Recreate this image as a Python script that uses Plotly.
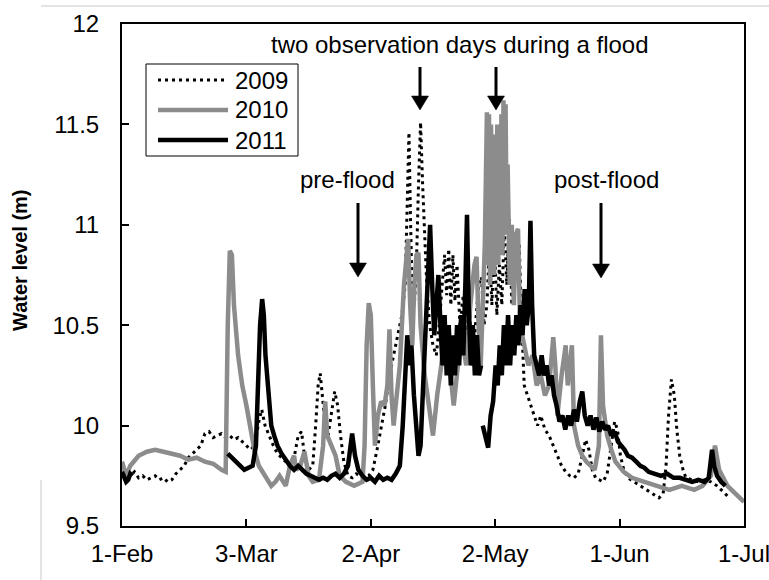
import plotly.graph_objects as go

# ---------------- data (day offset from 1-Feb, water level in m) ----------------
days_2009 = [0, 1, 2, 3, 4, 5, 6, 7, 8, 9, 10, 11, 12, 13, 14, 15, 16, 17, 18, 19,
             20, 21, 22, 23, 24, 25, 26, 27, 28, 29, 30, 31, 32, 33, 33.7, 34.5, 35.5, 36.5, 37.5, 38.5,
             39.5, 40.5, 41.5, 42.5, 43.3, 44, 45, 46, 46.7, 47.3, 47.8, 48.3, 49, 49.7, 50.5, 51.3,
             52, 52.7, 53.5, 54.5, 55.5, 56.5, 57.5, 58.5, 59.5, 60.5, 61.5, 62.5, 63.5, 64.5, 65.5,
             66.5, 67.5, 68.3, 68.8, 69.2, 69.6, 70.0, 70.5, 71.0, 71.5, 72.0, 72.5, 73.0, 73.5, 74.2,
             75.0, 75.8, 76.5, 77.2, 77.8, 78.3, 78.8, 79.3, 79.8, 80.3, 80.8, 81.5, 82.3, 83.0, 83.8,
             84.5, 85.3, 86.0, 86.7, 87.3, 88.0, 88.6, 89.2, 89.8, 90.4, 91.0, 91.6, 92.2, 92.8, 93.4,
             94.0, 94.6, 95.2, 95.8, 96.4, 97.0, 97.8, 98.6, 99.4, 100.2, 101.0, 102.0, 103.0, 104.0,
             105.0, 106.0, 107.0, 108.0, 109.0, 110.0, 111.0, 111.8, 112.6, 113.4, 114.2, 115.0, 116.0,
             117.0, 118.0, 118.8, 119.5, 120.2, 121.0, 122.0, 123.5, 125.0, 126.5, 128.0, 129.5, 130.5,
             131.2, 131.8, 132.5, 133.2, 133.8, 134.5, 135.3, 136.0, 137.5, 139.0, 140.5, 142.0, 143.5,
             145.0, 146.0]
level_2009 = [9.76, 9.74, 9.75, 9.77, 9.74, 9.75, 9.73, 9.74, 9.75, 9.73, 9.74, 9.72, 9.73, 9.76, 9.78,
              9.80, 9.84, 9.86, 9.88, 9.90, 9.96, 9.97, 9.94, 9.95, 9.96, 9.94, 9.95, 9.93, 9.94, 9.92,
              9.90, 9.88, 9.90, 10.02, 10.08, 10.00, 9.95, 9.90, 9.86, 9.84, 9.82, 9.80, 9.84, 9.95,
              9.97, 9.85, 9.78, 9.80, 10.00, 10.20, 10.26, 10.15, 10.00, 9.95, 10.05, 10.17, 10.10,
              9.95, 9.82, 9.75, 9.74, 9.76, 9.75, 9.74, 9.75, 9.78, 9.88, 10.00, 10.10, 10.25, 10.35,
              10.45, 10.55, 10.70, 11.10, 11.46, 11.00, 10.65, 10.60, 10.80, 11.20, 11.51, 11.20,
              10.90, 10.70, 10.50, 10.40, 10.35, 10.50, 10.70, 10.85, 10.65, 10.88, 10.60, 10.85,
              10.62, 10.80, 10.50, 10.65, 10.40, 10.60, 10.30, 10.50, 10.70, 10.74, 10.50, 10.60,
              10.90, 10.60, 10.94, 10.55, 10.80, 10.60, 11.00, 10.70, 11.03, 10.60, 10.90, 10.75,
              10.90, 10.50, 10.20, 10.15, 10.10, 10.05, 10.00, 10.05, 9.98, 9.95, 9.90, 9.85, 9.80,
              9.77, 9.75, 9.74, 9.76, 9.85, 9.93, 9.88, 9.78, 9.74, 9.73, 9.72, 9.76, 9.90, 10.02,
              9.98, 9.85, 9.78, 9.74, 9.72, 9.70, 9.68, 9.66, 9.64, 9.66, 9.80, 10.05, 10.23, 10.15,
              9.98, 9.85, 9.78, 9.74, 9.73, 9.72, 9.73, 9.72, 9.70, 9.67, 9.65]

days_2010 = [0, 1, 2, 4, 6, 8, 10, 12, 14, 16, 18, 20, 22, 24, 25, 25.5, 26, 26.5, 27, 28, 29, 30,
             31, 31.7, 32, 33, 35, 36, 37, 38, 39.5, 40.5, 41.5, 42, 43, 44, 45, 46, 47.5, 48.5, 49,
             49.5, 50.5, 51.5, 52.5, 54, 56, 58, 58.5, 59, 59.5, 60, 60.5, 61, 61.7, 62.5, 63.3, 64,
             64.5, 65, 65.5, 66, 67, 68, 69, 69.5, 70, 70.5, 71, 71.5, 72, 73, 74, 75, 76, 77, 78,
             79, 80, 81, 82, 83, 84, 85, 85.5, 86, 86.5, 87, 87.5, 88.0, 88.25, 88.5, 88.75, 89.0,
             89.25, 89.5, 89.75, 90.0, 90.25, 90.5, 90.75, 91.0, 91.25, 91.5, 91.75, 92.0, 92.25,
             92.5, 92.75, 93.0, 93.5, 94, 94.5, 95, 95.5, 96, 97, 98, 99, 100, 101, 102, 103, 104,
             104.5, 105, 106, 107, 107.5, 108.5, 109, 110, 111, 112, 113, 114, 115, 115.5, 116, 117,
             118, 119, 121, 123, 126, 129, 132, 135, 138, 140, 142, 143, 144, 146, 148, 150]
level_2010 = [9.82, 9.75, 9.80, 9.85, 9.87, 9.88, 9.87, 9.86, 9.85, 9.83, 9.84, 9.82, 9.81, 9.78,
              9.77, 10.50, 10.87, 10.85, 10.60, 10.35, 10.20, 10.10, 9.98, 9.90, 9.87, 9.80, 9.73,
              9.70, 9.72, 9.75, 9.70, 9.80, 9.85, 9.78, 9.80, 9.87, 9.75, 9.72, 9.73, 9.90, 10.12,
              9.95, 9.90, 9.85, 9.75, 9.72, 9.70, 9.72, 9.90, 10.40, 10.61, 10.55, 10.20, 9.90,
              10.05, 10.12, 10.10, 10.20, 10.48, 10.15, 10.00, 10.10, 10.30, 10.70, 10.93, 10.60,
              10.40, 10.70, 10.85, 10.86, 10.50, 10.25, 10.10, 9.95, 10.15, 10.30, 10.50, 10.30,
              10.10, 10.30, 10.45, 10.30, 10.60, 10.80, 10.84, 10.50, 10.30, 10.60, 10.90, 11.56,
              10.80, 11.55, 10.70, 11.50, 10.90, 11.44, 10.75, 11.45, 10.85, 11.50, 10.80, 11.48,
              10.90, 11.55, 10.85, 11.62, 10.95, 11.60, 11.00, 11.30, 10.70, 11.00, 10.60, 10.95,
              10.98, 10.50, 10.40, 10.30, 10.35, 10.20, 10.25, 10.15, 10.20, 10.44, 10.30, 10.05,
              10.25, 10.40, 10.20, 10.40, 10.00, 9.90, 9.85, 9.82, 9.80, 9.78, 9.90, 10.45, 10.10,
              9.95, 9.88, 9.82, 9.77, 9.74, 9.72, 9.70, 9.68, 9.70, 9.68, 9.70, 9.75, 9.90, 9.78,
              9.70, 9.66, 9.62]

days_2011 = [0, 0.5, 1.0, 1.5, 2.0, 2.5, 3.0, 25.5, 26.5, 27.5, 28.5, 29.5, 30.5, 31.5, 32.3, 32.8,
             33.3, 33.8, 34.2, 34.6, 35.0, 35.5, 36.0, 36.7, 37.5, 38.5, 39.5, 40.5, 41.5, 42.5,
             43.5, 44.5, 45.5, 46.5, 47.5, 48.5, 49.5, 50.5, 51.5, 52.5, 53.5, 54.5, 55.5, 56.2,
             57, 58, 59, 60, 61, 62, 63, 64, 65, 66, 67, 67.7, 68.3, 68.8, 69.3, 69.8, 70.4, 71.0,
             71.5, 72.0, 72.6, 73.2, 73.8, 74.3, 74.8, 75.3, 75.8, 76.3, 76.8, 77.3, 77.8, 78.3,
             78.8, 79.3, 79.8, 80.3, 80.8, 81.3, 81.8, 82.3, 82.8, 83.2, 83.6, 84.1, 84.6, 85.1,
             85.6, 86.1, 86.6, 86.8, 87.0, 87.6, 88.3, 88.9, 89.5, 90.1, 90.6, 91.1, 91.6, 92.1,
             92.6, 93.1, 93.6, 94.1, 94.6, 95.1, 95.6, 96.1, 96.6, 97.1, 97.6, 98.1, 98.5, 98.9,
             99.4, 100.0, 100.6, 101.2, 101.8, 102.4, 103.0, 103.6, 104.2, 104.8, 105.5, 106.2,
             106.9, 107.6, 108.3, 109.0, 109.7, 110.4, 111.0, 111.6, 112.3, 113.0, 113.7, 114.4,
             115.1, 115.8, 116.5, 117.2, 118.0, 118.8, 119.6, 120.4, 121.2, 122.0, 123.0, 124.0,
             125.0, 126.0, 127.0, 128.5, 130.0, 131.5, 133.0, 134.5, 136.0, 137.5, 139.0, 140.5,
             141.5, 142.3, 142.8, 143.5, 144.5, 145.5]
level_2011 = [9.77, 9.74, 9.72, 9.73, 9.76, 9.75, None, 9.86, 9.84, 9.82, 9.80, 9.78, 9.79, 9.80,
              9.90, 10.20, 10.50, 10.63, 10.55, 10.35, 10.25, 10.10, 10.00, 9.95, 9.90, 9.86, 9.83,
              9.80, 9.78, 9.80, 9.78, 9.76, 9.75, 9.74, 9.73, 9.74, 9.73, 9.75, 9.76, 9.74, 9.76,
              9.80, 9.96, 9.85, 9.78, 9.75, 9.73, 9.74, 9.72, 9.75, 9.73, 9.74, 9.73, 9.76, 9.80,
              10.00, 10.25, 10.45, 10.30, 10.40, 10.15, 9.95, 9.85, 9.90, 10.20, 10.50, 10.80,
              11.00, 10.70, 10.45, 10.60, 10.75, 10.50, 10.30, 10.55, 10.25, 10.50, 10.20, 10.45,
              10.25, 10.50, 10.30, 10.55, 10.35, 10.70, 11.05, 10.60, 10.30, 10.50, 10.25, 10.45,
              10.25, 10.30, None, 10.00, 9.95, 9.89, 10.05, 10.12, 10.30, 10.20, 10.40, 10.25, 10.50,
              10.30, 10.55, 10.30, 10.50, 10.35, 10.55, 10.40, 10.60, 10.45, 10.68, 10.50, 10.60,
              11.02, 10.60, 10.35, 10.30, 10.25, 10.35, 10.25, 10.30, 10.20, 10.25, 10.15, 10.10,
              10.02, 10.05, 9.98, 10.05, 10.00, 10.08, 10.02, 10.12, 10.17, 10.05, 10.00, 10.05,
              9.98, 10.04, 9.97, 10.02, 9.98, 10.00, 9.95, 9.97, 9.92, 9.90, 9.88, 9.85, 9.84, 9.82,
              9.80, 9.79, 9.77, 9.76, 9.75, 9.76, 9.74, 9.74, 9.73, 9.72, 9.73, 9.72, 9.74, 9.88,
              9.80, 9.75, 9.72, 9.70]

tick_days = [0, 30, 60, 90, 120, 150]
tick_labels = ["1-Feb", "3-Mar", "2-Apr", "2-May", "1-Jun", "1-Jul"]
y_ticks = [9.5, 10, 10.5, 11, 11.5, 12]
y_tick_labels = ["9.5", "10", "10.5", "11", "11.5", "12"]

series_names = ["2009", "2010", "2011"]
series_colors = ["#000000", "#8c8c8c", "#000000"]
series_widths = [3, 4.5, 4.5]
series_dash = ["3px,4px", "solid", "solid"]

# ---------------- figure ----------------
W, H = 769, 580
L, R, T, B = 122, 25, 24, 54
PW, PH = W - L - R, H - T - B


def px(x):
    return (x - L) / PW


def py(y):
    return (H - B - y) / PH


FONT = "Liberation Sans, Arial, sans-serif"

fig = go.Figure()
for d, v, n, c, w, ds in zip([days_2009, days_2010, days_2011],
                             [level_2009, level_2010, level_2011],
                             series_names, series_colors, series_widths, series_dash):
    fig.add_trace(go.Scatter(x=d, y=v, mode="lines", name=n,
                             line=dict(color=c, width=w, dash=ds),
                             connectgaps=False, showlegend=False))

shapes = []
annotations = []

# manual legend (box + line samples + labels)
shapes.append(dict(type="rect", xref="paper", yref="paper",
                   x0=px(146), x1=px(298), y0=py(156), y1=py(64),
                   line=dict(color="black", width=1), fillcolor="white", layer="above"))
for i, (n, c, w, ds) in enumerate(zip(series_names, series_colors, series_widths, series_dash)):
    yy = 80 + 30 * i
    shapes.append(dict(type="line", xref="paper", yref="paper",
                       x0=px(158), x1=px(228), y0=py(yy), y1=py(yy),
                       line=dict(color=c, width=w, dash=ds), layer="above"))
    annotations.append(dict(text=n, xref="paper", yref="paper", x=px(233), y=py(yy),
                            xanchor="left", yanchor="middle", showarrow=False,
                            font=dict(family=FONT, size=24, color="black")))

# arrows (shaft + filled head)
arrows = [(420, 67, 110), (496, 67, 110), (358, 203, 277), (601, 203, 278)]
for ax_, ytop, ytip in arrows:
    ybase = ytip - 14
    shapes.append(dict(type="line", xref="paper", yref="paper",
                       x0=px(ax_), x1=px(ax_), y0=py(ytop), y1=py(ybase + 1),
                       line=dict(color="black", width=3), layer="above"))
    path = "M {} {} L {} {} L {} {} Z".format(px(ax_ - 8.5), py(ybase), px(ax_ + 8.5), py(ybase),
                                             px(ax_), py(ytip))
    shapes.append(dict(type="path", xref="paper", yref="paper", path=path,
                       fillcolor="black", line=dict(color="black", width=0.5), layer="above"))

# text labels
for txt, xc, yc in [("two observation days during a flood", 460, 45),
                    ("pre-flood", 347, 180), ("post-flood", 606, 180)]:
    annotations.append(dict(text=txt, xref="paper", yref="paper", x=px(xc), y=py(yc),
                            xanchor="center", yanchor="middle", showarrow=False,
                            font=dict(family=FONT, size=24, color="black")))

# y axis title
annotations.append(dict(text="<b>Water level (m)</b>", xref="paper", yref="paper",
                        x=px(20), y=py(260), textangle=-90, xanchor="center", yanchor="middle",
                        showarrow=False, font=dict(family=FONT, size=20, color="black")))

# light frame lines of the original picture
shapes.append(dict(type="line", xref="paper", yref="paper", x0=px(41), x1=px(769),
                   y0=py(6), y1=py(6), line=dict(color="#c8c8c8", width=1)))
shapes.append(dict(type="line", xref="paper", yref="paper", x0=px(41), x1=px(41),
                   y0=py(480), y1=py(580), line=dict(color="#c8c8c8", width=1)))

fig.update_layout(
    width=W, height=H, margin=dict(l=L, r=R, t=T, b=B, pad=0, autoexpand=False),
    paper_bgcolor="white", plot_bgcolor="white",
    font=dict(family=FONT, size=24, color="black"),
    shapes=shapes, annotations=annotations, showlegend=False,
)
fig.update_xaxes(range=[0, 150], tickmode="array", tickvals=tick_days, ticktext=tick_labels,
                 showline=True, linecolor="black", linewidth=2, mirror=True, automargin=False,
                 ticks="inside", ticklen=7, tickwidth=1.5, tickcolor="black",
                 showgrid=False, zeroline=False, ticklabelstandoff=5,
                 ticklabeloverflow="allow",
                 tickfont=dict(family=FONT, size=24, color="black"))
fig.update_yaxes(range=[9.5, 12], tickmode="array", tickvals=y_ticks, ticktext=y_tick_labels,
                 showline=True, linecolor="black", linewidth=2, mirror=True, automargin=False,
                 ticks="inside", ticklen=7, tickwidth=1.5, tickcolor="black",
                 showgrid=False, zeroline=False, ticklabelstandoff=16,
                 tickfont=dict(family=FONT, size=24, color="black"))

fig.write_html("out.html")
